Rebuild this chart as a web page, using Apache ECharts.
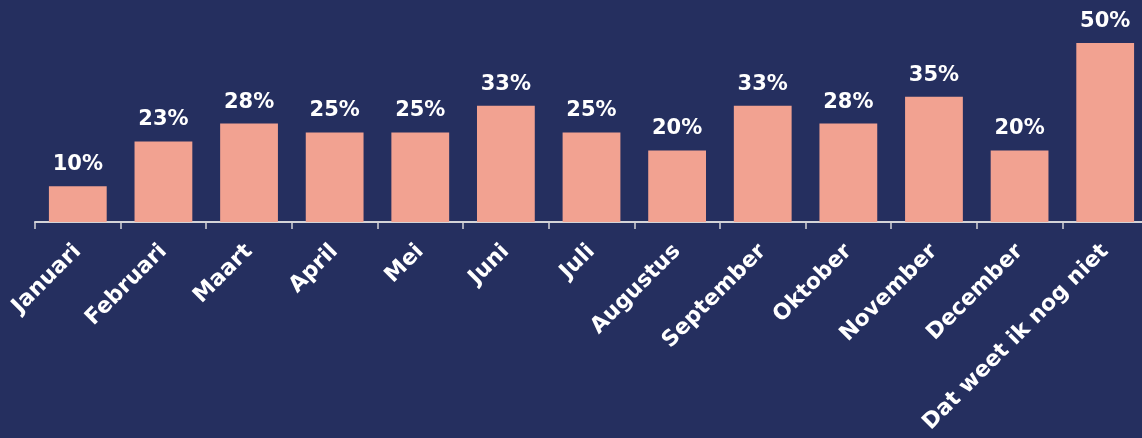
<!DOCTYPE html>
<html>
<head>
<meta charset="utf-8">
<script src="https://cdn.jsdelivr.net/npm/echarts@6/dist/echarts.min.js"></script>
<style>
  html, body { margin: 0; padding: 0; background: #252f5f; }
  #chart { width: 1142px; height: 438px; }
</style>
</head>
<body>
<div id="chart"></div>
<script>
var months = ['Januari', 'Februari', 'Maart', 'April', 'Mei', 'Juni', 'Juli',
    'Augustus', 'September', 'Oktober', 'November', 'December', 'Dat weet ik nog niet'];
// percentages (labels shown rounded)
var shares = [10, 22.5, 27.5, 25, 25, 32.5, 25, 20, 32.5, 27.5, 35, 20, 50];

var chart = echarts.init(document.getElementById('chart'));
var font = 'DejaVu Sans';

chart.setOption({
    backgroundColor: '#252f5f',
    animation: false,
    grid: {
        left: 35,
        right: -6,
        top: 43,
        bottom: 216,
        containLabel: false,
        outerBoundsMode: 'none'
    },
    xAxis: {
        type: 'category',
        data: months,
        axisLine: { lineStyle: { color: '#d4d4d8', width: 2 } },
        axisTick: { show: true, length: 7, lineStyle: { color: '#d4d4d8', width: 1.5 } },
        axisLabel: {
            interval: 0,
            rotate: 45,
            margin: 26,
            color: '#ffffff',
            fontFamily: font,
            fontWeight: 'bold',
            fontSize: 22
        }
    },
    yAxis: {
        type: 'value',
        min: 0,
        max: 50,
        show: false,
        splitLine: { show: false }
    },
    series: [{
        type: 'bar',
        data: shares,
        barCategoryGap: '32.5%',
        itemStyle: { color: '#f2a291' },
        label: {
            show: true,
            position: 'top',
            distance: 11,
            color: '#ffffff',
            fontFamily: font,
            fontWeight: 'bold',
            fontSize: 21,
            formatter: function (p) {
                return Math.round(p.value) + '%';
            }
        }
    }]
});
</script>
</body>
</html>
